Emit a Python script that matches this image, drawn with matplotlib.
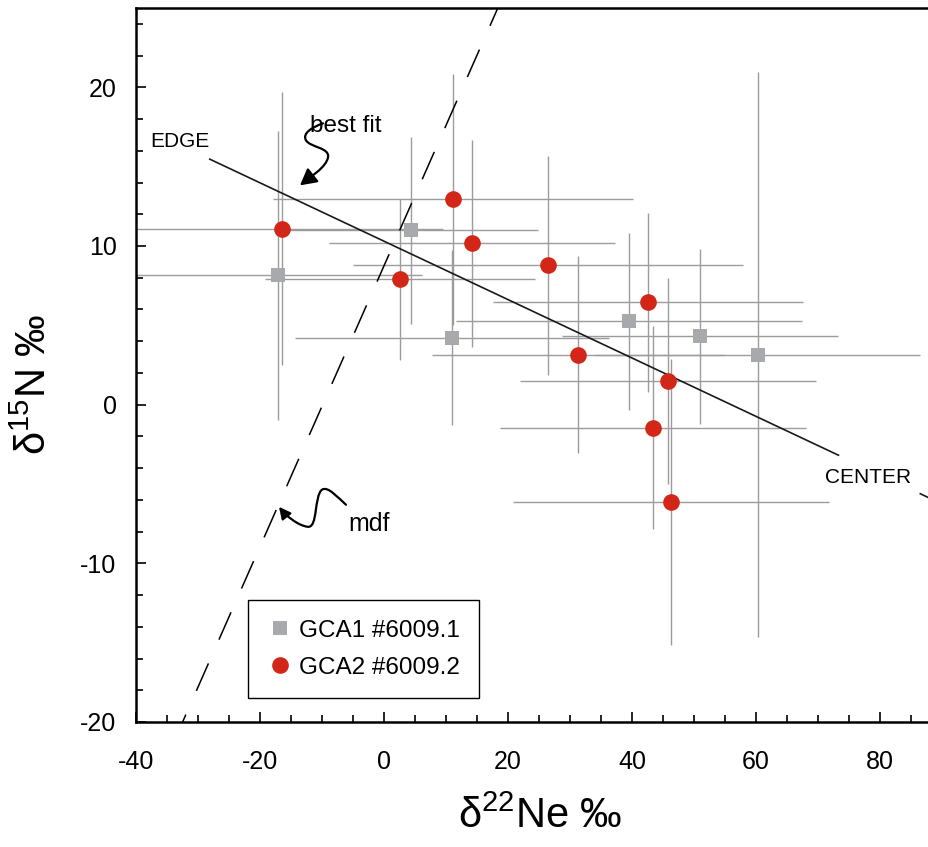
import numpy as np
import matplotlib.pyplot as plt
from matplotlib.path import Path
from matplotlib.patches import FancyArrowPatch

plt.rcParams['font.family'] = ['Liberation Sans', 'DejaVu Sans']
plt.rcParams['mathtext.fontset'] = 'custom'
plt.rcParams['mathtext.rm'] = 'Liberation Sans'
plt.rcParams['mathtext.it'] = 'Liberation Sans:italic'
plt.rcParams['axes.unicode_minus'] = False

# GCA1 #6009.1 (grey squares)
ne1 = [-17.1, 4.35, 10.97, 39.5, 50.97, 60.3]
n1 = [8.14, 10.98, 4.23, 5.24, 4.3, 3.15]
ne1_err = [23.2, 20.5, 25.4, 27.9, 22.2, 26.2]
n1_err = [9.1, 5.9, 5.5, 5.6, 5.5, 17.8]

# GCA2 #6009.2 (red circles)
ne2 = [-16.45, 2.58, 11.1, 14.2, 26.45, 31.3, 42.6, 45.8, 43.4, 46.3]
n2 = [11.1, 7.89, 12.93, 10.16, 8.77, 3.15, 6.44, 1.51, -1.45, -6.12]
ne2_err = [26.0, 21.7, 29.0, 23.0, 31.5, 23.6, 25.0, 23.9, 24.7, 25.5]
n2_err = [8.6, 5.1, 7.9, 6.5, 6.9, 6.2, 5.65, 6.5, 6.4, 9.0]

# best fit line and mass dependent fractionation line
fit_slope, fit_icpt = -0.184, 10.3
fit_ranges = [(-28.1, 73.3), (86.5, 92.0)]
mdf_slope, mdf_icpt = 0.885, 8.75

grey = '#a8a9ad'
red = '#d22618'
ebar = '#9c9c9c'
fs = 18

fig = plt.figure(figsize=(9.29, 8.47), dpi=100)
ax = fig.add_axes([0.1464, 0.1476, 0.8676, 0.843])

ax.errorbar(ne1, n1, xerr=ne1_err, yerr=n1_err, fmt='none', ecolor=ebar, elinewidth=1.0, capsize=0, zorder=2)
ax.errorbar(ne2, n2, xerr=ne2_err, yerr=n2_err, fmt='none', ecolor=ebar, elinewidth=1.0, capsize=0, zorder=2)

for a, b in fit_ranges:
    xx = np.array([a, b])
    ax.plot(xx, fit_slope*xx + fit_icpt, '-', color='#1a1a1a', lw=1.2, zorder=3)

xm = np.array([-40, 30])
ax.plot(xm, mdf_slope*xm + mdf_icpt, color='black', lw=1.1,
        linestyle=(12, (19.6, 17.0)), zorder=3)

ax.plot(ne1, n1, 's', ms=10.3, color=grey, mew=0, label='GCA1 #6009.1', zorder=4)
ax.plot(ne2, n2, 'o', ms=12, color=red, mew=0, label='GCA2 #6009.2', zorder=4)

ax.text(-37.74, 16.21, 'EDGE', fontsize=15, ha='left', va='baseline')
ax.text(71.1, -4.94, 'CENTER', fontsize=15, ha='left', va='baseline')
ax.text(-11.94, 17.18, 'best fit', fontsize=17.5, ha='left', va='baseline')
ax.text(-5.8, -7.99, 'mdf', fontsize=18, ha='left', va='baseline')

# squiggly arrows
C = Path.CURVE4
p_fit = Path([(-9.84, 17.73), (-11.61, 17.48), (-13.23, 17.10), (-12.58, 16.66),
              (-11.94, 16.21), (-8.71, 16.21), (-9.03, 15.58),
              (-9.35, 14.95), (-11.94, 14.32), (-13.55, 13.82)],
             [Path.MOVETO, C, C, C, C, C, C, C, C, C])
ax.add_patch(FancyArrowPatch(path=p_fit, arrowstyle='-|>,head_length=0.55,head_width=0.3',
                             mutation_scale=18, color='black', lw=1.6, zorder=5))
p_mdf = Path([(-6.13, -6.31), (-7.42, -5.87), (-9.03, -5.11), (-10.0, -5.36),
              (-11.29, -5.74), (-10.65, -7.76), (-12.26, -7.70),
              (-13.87, -7.63), (-15.81, -7.00), (-16.94, -6.44)],
             [Path.MOVETO, C, C, C, C, C, C, C, C, C])
ax.add_patch(FancyArrowPatch(path=p_mdf, arrowstyle='-|>,head_length=0.5,head_width=0.25',
                             mutation_scale=14, color='black', lw=1.6, zorder=5))

ax.set_xlim(-40, 90)
ax.set_ylim(-20, 25)
ax.set_xticks(np.arange(-40, 81, 20))
ax.set_xticks(np.arange(-40, 91, 5), minor=True)
ax.set_yticks(np.arange(-20, 21, 10))
ax.set_yticks(np.arange(-20, 25, 2), minor=True)
ax.tick_params(which='both', direction='in', top=False, right=False, width=1.2)
ax.tick_params(which='major', length=7)
ax.tick_params(which='minor', length=5)
ax.tick_params(axis='x', which='major', labelsize=fs, pad=20)
ax.tick_params(axis='y', which='major', labelsize=fs, pad=14)
for s in ax.spines.values():
    s.set_linewidth(1.8)

ax.set_xlabel('δ$^{22}$Ne ‰', fontsize=30)
ax.set_ylabel('δ$^{15}$N ‰', fontsize=30)
ax.xaxis.set_label_coords(0.501, -0.105)
ax.yaxis.set_label_coords(-0.10, 0.473)

leg = ax.legend(loc='lower left', bbox_to_anchor=(0.139, 0.0336), borderaxespad=0,
                fontsize=17.5, frameon=True, fancybox=False, edgecolor='black', framealpha=1,
                borderpad=0.8, labelspacing=0.6, handlelength=1.0, handletextpad=0.3,
                numpoints=1)
leg.get_frame().set_linewidth(1.0)

fig.savefig('out.png', dpi=100)
